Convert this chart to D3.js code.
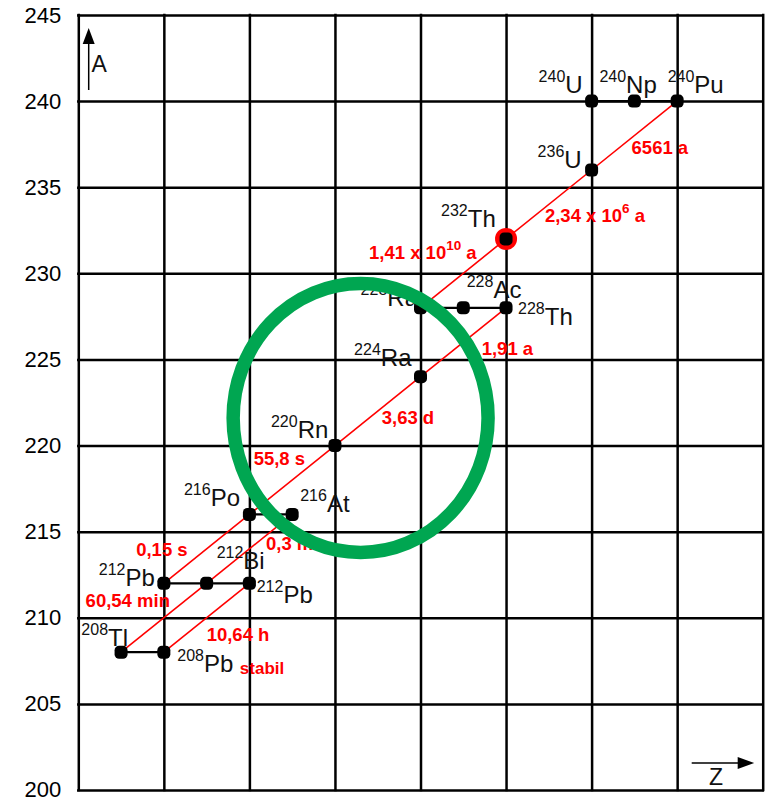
<!DOCTYPE html>
<html>
<head>
<meta charset="utf-8">
<script src="https://cdn.jsdelivr.net/npm/d3@7"></script>
<style>
  html, body { margin: 0; padding: 0; background: #fff; }
  svg { display: block; font-family: "Liberation Sans", Arial, sans-serif; }
</style>
</head>
<body>
<svg id="chart" width="784" height="802"></svg>
<script>
// ---- data: thorium decay series (A = mass number, Z = proton number) ----
const massTicks = [200, 205, 210, 215, 220, 225, 230, 235, 240, 245];
const zGridLines = [80, 82, 84, 86, 88, 90, 92, 94, 96];

const nuclideKeys    = ["U240", "Np240", "Pu240", "U236", "Th232", "Ra228", "Ac228", "Th228", "Ra224",
                        "Rn220", "Po216", "At216", "Pb212", "Bi212", "Po212", "Tl208", "Pb208"];
const nuclideSymbols = ["U", "Np", "Pu", "U", "Th", "Ra", "Ac", "Th", "Ra",
                        "Rn", "Po", "At", "Pb", "Bi", "Pb", "Tl", "Pb"];
const massNumbers    = [240, 240, 240, 236, 232, 228, 228, 228, 224,
                        220, 216, 216, 212, 212, 212, 208, 208];
const protonNumbers  = [92, 93, 94, 92, 90, 88, 89, 90, 88,
                        86, 84, 85, 82, 83, 84, 81, 82];

// alpha decays (red) with their half-lives
const alphaFrom = ["Pu240", "U236", "Th232", "Th228", "Ra224", "Rn220", "At216", "Po216", "Bi212", "Po212"];
const alphaTo   = ["U236", "Th232", "Ra228", "Ra224", "Rn220", "Po216", "Bi212", "Pb212", "Tl208", "Pb208"];
const halfLives = ["6561 a", "2,34 x 10^{6} a", "1,41 x 10^{10} a", "1,91 a", "3,63 d",
                   "55,8 s", "0,3 ms", "0,15 s", "60,54 min", "10,64 h"];

// beta decay chains (black, same mass number)
const betaChains = [
  ["U240", "Np240", "Pu240"],
  ["Ra228", "Ac228", "Th228"],
  ["Po216", "At216"],
  ["Pb212", "Bi212", "Po212"],
  ["Tl208", "Pb208"]
];

const primordialKey = "Th232";
const stableKey = "Pb208";
const stableText = "stabil";

// region of interest around radon-220 (in Z / A units)
const focusCenterZ = 86.6, focusCenterA = 221.6, focusRadiusZ = 2.98, focusRadiusA = 7.81;

// ---- label layout (pixel offsets) ----
const labelPlacement = {
  U240: [-53, -8, "start"], Np240: [-35, -8, "start"], Pu240: [-9.5, -8, "start"],
  U236: [-54, -2, "start"], Th232: [-65, -11.5, "start"],
  Ra228: [-2.5, -1.5, "end"], Ac228: [3.4, -10, "start"], Th228: [12, 17, "start"],
  Ra224: [-9, -10.5, "end"], Rn220: [-6.6, -8, "end"],
  At216: [8, -2, "start"], Po216: [-9.4, -8.5, "end"],
  Bi212: [10, -14, "start"], Pb212: [-9, 2.6, "end"], Po212: [7.3, 20, "start"],
  Tl208: [7, -6.4, "end"], Pb208: [13.4, 20, "start"]
};
const halfLifePlacement = {
  Pu240: [-2.8, 18.3, "start"], U236: [-3.9, 18, "start"], Th232: [13.4, -14.4, "end"],
  Th228: [18.4, 12.3, "start"], Ra224: [4, 13.3, "start"], Rn220: [12.9, -14.6, "end"],
  At216: [16.6, 1.1, "start"], Po216: [-19, 7.1, "end"], Bi212: [6.1, -10.3, "end"],
  Po212: [0, 23.1, "start"]
};

// ---- scales ----
const x = d3.scaleLinear().domain([80, 96]).range([78.3, 762.7]);
const y = d3.scaleLinear().domain([200, 245]).range([790, 15]);

const svg = d3.select("#chart");
const RED = "#ff0000";
const GREEN = "#00a651";

const nuclides = nuclideKeys.map((k, i) => ({
  key: k, symbol: nuclideSymbols[i], mass: massNumbers[i], z: protonNumbers[i]
}));
const byKey = new Map(nuclides.map(d => [d.key, d]));
const px = d => x(byKey.get(d).z);
const py = d => y(byKey.get(d).mass);

// ---- grid ----
const plotW = x(96) - x(80);
const plotH = y(200) - y(245);

const vGrid = svg.append("g")
  .attr("transform", `translate(0,${y(200)})`)
  .call(d3.axisBottom(x).tickValues(zGridLines).tickSize(-plotH).tickFormat(""));
vGrid.select(".domain").remove();
vGrid.selectAll(".tick line").attr("stroke", "#000").attr("stroke-width", 2.5).attr("stroke-linecap", "square");

const hGrid = svg.append("g")
  .attr("transform", `translate(${x(80)},0)`)
  .call(d3.axisLeft(y).tickValues(massTicks).tickSize(-plotW).tickPadding(17).tickFormat(d3.format("d")));
hGrid.select(".domain").remove();
hGrid.selectAll(".tick line").attr("stroke", "#000").attr("stroke-width", 2.5).attr("stroke-linecap", "square");
hGrid.selectAll(".tick text")
  .attr("font-family", "'Liberation Sans', Arial, sans-serif")
  .attr("font-size", 22).attr("fill", "#000")
  .attr("dy", d => d === 200 ? "0.28em" : "0.32em");

// ---- axis arrows ----
const arrows = svg.append("g");
const ax0 = x(80) + 10.4;
arrows.append("line").attr("x1", ax0).attr("x2", ax0).attr("y1", y(245) + 75).attr("y2", y(245) + 28)
  .attr("stroke", "#000").attr("stroke-width", 1.5);
arrows.append("path")
  .attr("d", `M${ax0},${y(245) + 13} L${ax0 - 6},${y(245) + 29} L${ax0 + 6},${y(245) + 29} Z`)
  .attr("fill", "#000");
arrows.append("text").attr("x", ax0 + 2.8).attr("y", y(245) + 57).attr("font-size", 23).attr("fill", "#111").text("A");

const zy = y(200) - 27;
arrows.append("line").attr("x1", x(96) - 71).attr("x2", x(96) - 24).attr("y1", zy).attr("y2", zy)
  .attr("stroke", "#000").attr("stroke-width", 1.5);
arrows.append("path")
  .attr("d", `M${x(96) - 8.5},${zy} L${x(96) - 25},${zy - 6} L${x(96) - 25},${zy + 6} Z`)
  .attr("fill", "#000");
arrows.append("text").attr("x", x(96) - 53.7).attr("y", y(200) - 5).attr("font-size", 23).attr("fill", "#111").text("Z");

// ---- alpha decays ----
const alpha = alphaFrom.map((f, i) => ({ from: f, to: alphaTo[i], label: halfLives[i] }));
svg.append("g").selectAll("line").data(alpha).join("line")
  .attr("x1", d => px(d.from)).attr("y1", d => py(d.from))
  .attr("x2", d => px(d.to)).attr("y2", d => py(d.to))
  .attr("stroke", RED).attr("stroke-width", 1.6);

// ---- beta decays ----
const betaLinks = betaChains.flatMap(c => d3.pairs(c));
svg.append("g").selectAll("line").data(betaLinks).join("line")
  .attr("x1", d => px(d[0])).attr("y1", d => py(d[0]))
  .attr("x2", d => px(d[1])).attr("y2", d => py(d[1]))
  .attr("stroke", "#000").attr("stroke-width", 2.2);

// ---- nuclides ----
svg.append("circle")
  .attr("cx", px(primordialKey)).attr("cy", py(primordialKey)).attr("r", 11)
  .attr("fill", RED);

svg.append("g").selectAll("rect").data(nuclides).join("rect")
  .attr("x", d => x(d.z) - 6.5).attr("y", d => y(d.mass) - 6.5)
  .attr("width", 13).attr("height", 13).attr("rx", 4.5)
  .attr("fill", "#000");

// nuclide labels: superscript mass number + element symbol
const labels = svg.append("g").attr("fill", "#111");
nuclides.forEach(d => {
  const [dx, dy, anchor] = labelPlacement[d.key];
  const t = labels.append("text")
    .attr("x", x(d.z) + dx).attr("y", y(d.mass) + dy)
    .attr("text-anchor", anchor);
  t.append("tspan").attr("font-size", 16).attr("dy", -11).text(d.mass);
  t.append("tspan").attr("font-size", 24).attr("dy", 11).text(d.symbol);
});

// half-life labels
const hl = svg.append("g").attr("fill", RED).attr("font-weight", "bold");
alpha.forEach(d => {
  const [dx, dy, anchor] = halfLifePlacement[d.from];
  const mx = (px(d.from) + px(d.to)) / 2;
  const my = (py(d.from) + py(d.to)) / 2;
  const t = hl.append("text").attr("x", mx + dx).attr("y", my + dy)
    .attr("text-anchor", anchor).attr("font-size", 18.5);
  const parts = d.label.split(/\^\{(.*?)\}/);
  parts.forEach((p, i) => {
    if (!p) return;
    if (i % 2 === 1) {
      t.append("tspan").attr("font-size", 13.5).attr("dy", -9).text(p);
    } else {
      const s = t.append("tspan").text(p);
      if (i > 0) s.attr("dy", 9);
    }
  });
});

hl.append("text")
  .attr("x", px(stableKey) + 76).attr("y", py(stableKey) + 22)
  .attr("font-size", 17).text(stableText);

// ---- highlighted region ----
svg.append("ellipse")
  .attr("cx", x(focusCenterZ)).attr("cy", y(focusCenterA))
  .attr("rx", x(focusCenterZ + focusRadiusZ) - x(focusCenterZ))
  .attr("ry", y(focusCenterA) - y(focusCenterA + focusRadiusA))
  .attr("fill", "none").attr("stroke", GREEN).attr("stroke-width", 13.5);
</script>
</body>
</html>
